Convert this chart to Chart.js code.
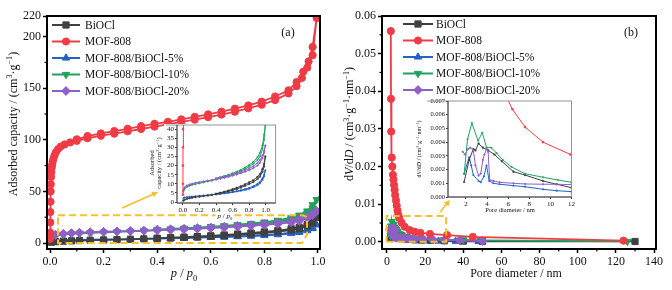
<!DOCTYPE html>
<html><head><meta charset="utf-8">
<script src="https://cdn.jsdelivr.net/npm/chart.js@4.4.1/dist/chart.umd.min.js"></script>
<style>
html,body{margin:0;padding:0;background:#fff}
body{position:relative;width:672px;height:290px;overflow:hidden}
canvas{position:absolute;display:block}
</style></head><body>
<canvas id="c1" width="336" height="290" style="left:0;top:0"></canvas>
<canvas id="c2" width="336" height="290" style="left:336px;top:0"></canvas>
<canvas id="i1" width="165" height="106" style="left:115px;top:118px"></canvas>
<canvas id="i2" width="168" height="122" style="left:408px;top:94px"></canvas>
<script>
// ================= DATA =================
const seriesNames = ['BiOCl','MOF-808','MOF-808/BiOCl-5%','MOF-808/BiOCl-10%','MOF-808/BiOCl-20%'];

// N2 isotherms: relative pressure p/p0 and adsorbed capacity (cm3/g)
const relP_ads = [0.005,0.02,0.05,0.08,0.11,0.15,0.2,0.25,0.3,0.35,0.4,0.45,0.5,0.55,0.6,0.65,0.7,0.75,0.8,0.85,0.9,0.93,0.96,0.98,0.995];
const relP_des = [0.98,0.96,0.93,0.9,0.85,0.8,0.75,0.7,0.65,0.6,0.55,0.5,0.45,0.4];
const bioclAds = [0.8,1.3,1.8,2.1,2.4,2.7,3.0,3.3,3.6,4.0,4.4,4.9,5.4,5.9,6.5,7.2,8.0,8.9,9.9,11.0,12.6,14.0,16.5,19.5,25.0];
const bioclDes = [21.0,18.0,15.2,13.8,12.0,10.8,9.7,8.7,7.8,7.0,6.3,5.7,5.1,4.6];
const mof5Ads  = [2.2,2.5,2.7,2.9,3.0,3.2,3.4,3.6,3.8,4.0,4.3,4.5,4.8,5.1,5.4,5.8,6.2,6.7,7.3,8.1,9.2,10.3,12.0,14.0,17.5];
const mof5Des  = [15.0,13.0,11.0,10.0,8.7,7.8,7.1,6.5,6.0,5.6,5.2,4.9,4.6,4.3];
const mof10Ads = [5.6,7.2,8.3,8.9,9.4,9.8,10.3,10.8,11.3,11.8,12.4,13.0,13.6,14.3,15.1,16.0,17.0,18.1,19.4,20.9,23.0,25.0,29.0,34.0,42.0];
const mof10Des = [37.0,31.0,27.0,24.5,22.0,20.3,18.9,17.7,16.7,15.8,15.0,14.3,13.6,13.0];
const mof20Ads = [6.5,8.0,9.0,9.6,10.0,10.5,10.9,11.3,11.7,12.1,12.5,12.9,13.4,13.9,14.5,15.1,15.8,16.6,17.5,18.6,20.0,21.5,24.0,27.0,31.0];
const mof20Des = [28.0,25.5,23.0,21.4,19.6,18.4,17.4,16.5,15.7,15.0,14.4,13.8,13.3,12.8];
const mofRelP_ads = [0.0003,0.0006,0.001,0.0015,0.002,0.0025,0.003,0.004,0.005,0.0065,0.008,0.01,0.013,0.017,0.022,0.03,0.04,0.055,0.075,0.1,0.14,0.19,0.24,0.29,0.34,0.39,0.44,0.49,0.54,0.59,0.64,0.69,0.74,0.79,0.84,0.89,0.92,0.94,0.96,0.98,0.995];
const mofAds = [4,10,20,30,40,50,57,64,69,73,76,79,82,85,88,91,93.5,95.5,97.5,99,101.5,104,106,108.3,110.5,112.8,115,117.3,119.5,122,124.5,127.3,130.5,134,138.5,145,152,160,170,182,218];
const mofRelP_des = [0.98,0.965,0.945,0.92,0.89,0.84,0.79,0.74,0.69,0.64,0.59,0.54,0.49,0.44,0.39,0.34,0.29,0.24,0.19,0.14,0.1];
const mofDes = [190,176,166,156,148,142,137,133.3,130.2,127.3,124.7,122.3,119.8,117.5,115.5,113.3,110.7,108.5,106.2,103.7,100.5];

// Pore size distribution: pore diameter (nm) and dV/dD
const psdD_BiOCl = [1.83,2.3,2.7,2.9,3.2,3.6,4.1,4.7,5.4,6.5,7.6,9.3,10.6,12.0,14.5,18,23,30,40,50,130];
const psdV_BiOCl = [0.0011,0.0027,0.0035,0.0034,0.0039,0.0036,0.0034,0.0031,0.0026,0.00185,0.0016,0.00117,0.00093,0.00068,0.0006,0.0005,0.0004,0.0003,0.0002,0.00015,0.0001];
const psdD_MOF = [2.0,2.1,2.2,2.5,2.8,3.1,3.4,3.7,4.0,4.3,4.7,5.1,5.5,5.9,6.4,7.6,9.3,11.9,14.5,17.5,22.5,31.5,45,124];
const psdV_MOF = [0.056,0.038,0.0293,0.0224,0.0200,0.0178,0.0165,0.0151,0.0138,0.0124,0.0110,0.0096,0.0083,0.0072,0.0064,0.0051,0.0040,0.0031,0.0027,0.0024,0.0021,0.0018,0.0013,0.0003];
const psdD_5 = [1.83,2.3,2.5,2.7,3.2,3.4,3.7,3.95,4.2,4.6,5.2,6.5,7.6,9.3,10.6,12.0,15,20,27,36,48];
const psdV_5 = [0.0017,0.0029,0.0023,0.0016,0.00117,0.00107,0.0015,0.0023,0.00117,0.001,0.00093,0.00083,0.00075,0.00056,0.00046,0.00039,0.0003,0.00025,0.0002,0.00015,0.0001];
const psdD_10 = [1.83,2.15,2.56,3.15,3.55,3.95,4.4,4.9,5.5,6.3,7.6,9.3,10.7,12.0,14.5,18,23,30,40,50,126];
const psdV_10 = [0.00168,0.0042,0.0054,0.0041,0.0047,0.0036,0.0036,0.0032,0.0027,0.0022,0.0017,0.00144,0.00124,0.00107,0.0009,0.0008,0.0007,0.0006,0.0005,0.0004,0.0001];
const psdD_20 = [1.7,1.9,2.2,2.4,2.7,2.9,3.2,3.4,3.6,3.75,3.95,4.1,4.25,4.6,5.2,6.5,7.6,9.3,10.6,12.0,15,19,24,30,38,50];
const psdV_20 = [0.0033,0.0031,0.0035,0.0036,0.0034,0.0023,0.00155,0.0017,0.0027,0.0031,0.0035,0.0033,0.00124,0.00117,0.00107,0.001,0.00095,0.00093,0.00093,0.0009,0.0008,0.0007,0.0006,0.0005,0.0004,0.0002];

// tick labels
const isoXTicks = [0,0.2,0.4,0.6,0.8,1.0];
const isoYTicks = [0,50,100,150,200,220];
const psdXTicks = [0,20,40,60,80,100,120,140];
const psdYTicks = [0,0.01,0.02,0.03,0.04,0.05,0.06];
const inIsoXTicks = [0,0.2,0.4,0.6,0.8,1.0];
const inIsoYTicks = [0,5,10,15,20,25,30,35,40];
const inPsdXTicks = [2,4,6,8,10,12];
const inPsdYTicks = [0,0.001,0.002,0.003,0.004,0.005,0.006,0.007];

// ================= STYLE =================
const FAM = "'Liberation Serif','Times New Roman',serif";
const COL = ['#404040','#ef3b45','#2463c3','#1fa25c','#8e5fc6'];
const PSTYLE = ['rect','circle','triangle','triangle','rectRot'];
const PROT = [0,0,0,180,0];
const PRAD = [4.4,3.6,4.2,4.2,4.4];
const DRAW_ORDER = [1,4,3,0,2];
const YEL = '#f6c02c';

function pts(xs, ys){ return xs.map((x,i)=>({x:x, y:ys[i]})); }
const isoSeries = [
  pts(relP_ads,bioclAds).concat(pts(relP_des,bioclDes)),
  pts(mofRelP_ads,mofAds).concat(pts(mofRelP_des,mofDes)),
  pts(relP_ads,mof5Ads).concat(pts(relP_des,mof5Des)),
  pts(relP_ads,mof10Ads).concat(pts(relP_des,mof10Des)),
  pts(relP_ads,mof20Ads).concat(pts(relP_des,mof20Des))
];
const psdSeries = [pts(psdD_BiOCl,psdV_BiOCl), pts(psdD_MOF,psdV_MOF), pts(psdD_5,psdV_5), pts(psdD_10,psdV_10), pts(psdD_20,psdV_20)];

function makeDatasets(series, inset){
  return DRAW_ORDER.map(k => ({
    label: seriesNames[k], data: series[k], showLine:true, tension:0,
    borderColor: COL[k], backgroundColor: COL[k],
    borderWidth: inset ? 1 : 1.8,
    pointStyle: PSTYLE[k], pointRotation: PROT[k],
    pointRadius: inset ? 1.1 : PRAD[k], pointBorderWidth: inset ? 0.4 : 1,
    pointBackgroundColor: COL[k], pointBorderColor: COL[k]
  }));
}

function rich(ctx, parts, x, y, size, rot, whiteBg){
  ctx.save();
  ctx.translate(x,y);
  if (rot) ctx.rotate(rot);
  ctx.textBaseline='alphabetic'; ctx.textAlign='left';
  const font = p => ((p[1]==='i')?'italic ':'') + ((p[1]==='sup'||p[1]==='sub')? size*0.68 : size) + 'px ' + FAM;
  let w=0;
  parts.forEach(p=>{ ctx.font=font(p); w+=ctx.measureText(p[0]).width; });
  if (whiteBg){ ctx.fillStyle='#fff'; ctx.fillRect(-w/2-2, -size*0.6, w+4, size*1.25); }
  ctx.fillStyle='#111';
  let cx=-w/2; const base=size*0.35;
  parts.forEach(p=>{
    ctx.font=font(p);
    const dy = p[1]==='sup' ? -size*0.38 : (p[1]==='sub' ? size*0.25 : 0);
    ctx.fillText(p[0], cx, base+dy);
    cx += ctx.measureText(p[0]).width;
  });
  ctx.restore();
}

const charts = {};

function arrow(ctx, x0,y0,x1,y1,color,w){
  const ang=Math.atan2(y1-y0,x1-x0), L=6, H=3;
  ctx.save();
  ctx.strokeStyle=color; ctx.fillStyle=color; ctx.lineWidth=w; ctx.setLineDash([]);
  ctx.beginPath(); ctx.moveTo(x0,y0); ctx.lineTo(x1-Math.cos(ang)*L*0.8, y1-Math.sin(ang)*L*0.8); ctx.stroke();
  ctx.beginPath();
  ctx.moveTo(x1,y1);
  ctx.lineTo(x1-Math.cos(ang)*L+Math.sin(ang)*H, y1-Math.sin(ang)*L-Math.cos(ang)*H);
  ctx.lineTo(x1-Math.cos(ang)*L-Math.sin(ang)*H, y1-Math.sin(ang)*L+Math.cos(ang)*H);
  ctx.closePath(); ctx.fill();
  ctx.restore();
}

const deco = {
  id:'deco',
  beforeDraw(chart, args, o){
    if (o.bg){ const c=chart.ctx; c.save(); c.fillStyle='#fff'; c.fillRect(o.bg[0],o.bg[1],o.bg[2],o.bg[3]); c.restore(); }
  },
  afterDatasetsDraw(chart, args, o){
    const ctx=chart.ctx, a=chart.chartArea, xs=chart.scales.x, ys=chart.scales.y;
    ctx.save();
    (o.polys||[]).forEach(p=>{
      ctx.beginPath(); ctx.setLineDash(p.dash); ctx.lineWidth=p.w; ctx.strokeStyle=p.color;
      p.pts.forEach((q,i)=>{ const px=xs.getPixelForValue(q[0]), py=ys.getPixelForValue(q[1]); if(i) ctx.lineTo(px,py); else ctx.moveTo(px,py); });
      ctx.stroke();
    });
    ctx.setLineDash([]);
    if (o.frame){
      ctx.lineWidth=o.frame.w; ctx.strokeStyle=o.frame.color;
      ctx.strokeRect(a.left,a.top,a.right-a.left,a.bottom-a.top);
      if (o.frame.extendTop!=null){ ctx.beginPath(); ctx.moveTo(o.frame.extendTop,a.top); ctx.lineTo(a.left,a.top); ctx.stroke(); }
      if (o.frame.axis){ ctx.strokeStyle=o.frame.axis; ctx.beginPath(); ctx.moveTo(a.left,a.top); ctx.lineTo(a.left,a.bottom); ctx.lineTo(a.right,a.bottom); ctx.stroke(); }
    }
    if (o.minor){
      ctx.strokeStyle='#000'; ctx.lineWidth=1.2;
      (o.minor.x||[]).forEach(v=>{ const px=xs.getPixelForValue(v); ctx.beginPath(); ctx.moveTo(px,a.bottom); ctx.lineTo(px,a.bottom+o.minor.len); ctx.stroke(); });
      (o.minor.y||[]).forEach(v=>{ const py=ys.getPixelForValue(v); ctx.beginPath(); ctx.moveTo(a.left,py); ctx.lineTo(a.left-o.minor.len,py); ctx.stroke(); });
    }
    ctx.restore();
  },
  afterDraw(chart, args, o){
    const ctx=chart.ctx;
    if (o.legend){
      const L=o.legend;
      L.items.forEach((k,i)=>{
        const y=L.y0+i*L.dy;
        ctx.save();
        ctx.strokeStyle=COL[k]; ctx.lineWidth=2; ctx.beginPath(); ctx.moveTo(L.x0,y); ctx.lineTo(L.x1,y); ctx.stroke();
        ctx.fillStyle=COL[k]; ctx.strokeStyle=COL[k]; ctx.lineWidth=1;
        if (Chart.helpers && Chart.helpers.drawPoint){
          Chart.helpers.drawPoint(ctx,{pointStyle:PSTYLE[k],rotation:PROT[k],radius:PRAD[k],borderWidth:1},(L.x0+L.x1)/2,y);
        } else { ctx.beginPath(); ctx.arc((L.x0+L.x1)/2,y,3.5,0,Math.PI*2); ctx.fill(); }
        ctx.fillStyle='#111'; ctx.font=L.size+'px '+FAM; ctx.textBaseline='middle'; ctx.textAlign='left';
        ctx.fillText(seriesNames[k], L.tx, y+0.5);
        ctx.restore();
      });
    }
    (o.texts||[]).forEach(t=>rich(ctx,t.parts,t.x,t.y,t.size,t.rot||0,t.bg));
    (o.arrows||[]).forEach(ar=>{
      const src=charts[ar.src]; if(!src) return;
      const x0=src.scales.x.getPixelForValue(ar.from[0])+ar.dx, y0=src.scales.y.getPixelForValue(ar.from[1])+ar.dy;
      const x1=src.scales.x.getPixelForValue(ar.to[0])+ar.dx, y1=src.scales.y.getPixelForValue(ar.to[1])+ar.dy;
      arrow(ctx,x0,y0,x1,y1,YEL,1.6);
    });
  }
};

function axis(o){
  return {
    type:'linear', min:o.min, max:o.max,
    afterBuildTicks: s=>{ s.ticks=o.ticks.map(v=>({value:v})); },
    afterFit: s=>{ if(o.h!=null) s.height=o.h; if(o.w!=null) s.width=o.w; },
    ticks:{ autoSkip:false, maxRotation:0, minRotation:0, padding:o.pad, color:'#111', font:{family:FAM,size:o.fs}, callback:o.fmt },
    grid:{ drawOnChartArea:false, drawTicks:true, tickLength:o.tl, tickColor:o.tc||'#000', tickWidth:o.tw },
    border:{ display:false }
  };
}
function opts(xa, ya, pad, decoOpts){
  return { responsive:false, animation:false, events:[], devicePixelRatio:1,
    layout:{padding:pad},
    plugins:{ legend:{display:false}, tooltip:{enabled:false}, deco:decoOpts },
    scales:{ x:xa, y:ya } };
}

const yTitleA = [['Adsorbed capacity / (cm'],['3','sup'],['·g'],['−1','sup'],[')']];
const yTitleB = [['d'],['V','i'],['/d'],['D','i'],[' / (cm'],['3','sup'],['·g'],['−1','sup'],['·nm'],['−1','sup'],[')']];
const xTitleA = [['p','i'],[' / '],['p','i'],['0','sub']];
const xTitleB = [['Pore diameter / nm']];

// ---------- panel (a) ----------
charts.c1 = new Chart(document.getElementById('c1'), {
  type:'scatter',
  data:{ datasets: makeDatasets(isoSeries,false) },
  options: opts(
    axis({min:-0.0112,max:1.0075,ticks:isoXTicks,h:41,fs:12,pad:2,tl:4,tw:1.5,fmt:v=>v.toFixed(1)}),
    axis({min:-5.8,max:220,ticks:isoYTicks,w:47,fs:12,pad:2,tl:4,tw:1.5,fmt:v=>String(v)}),
    {left:0,top:16,right:16,bottom:0},
    { frame:{w:2,color:'#000'},
      minor:{x:[0.1,0.3,0.5,0.7,0.9], y:[25,75,125,175], len:2.5},
      polys:[{pts:[[0.03,27],[0.944,27],[0.959,25],[0.959,8],[0.94,0],[0.03,0],[0.03,27]], color:YEL, dash:[7,4], w:2}],
      legend:{items:[0,1,2,3,4], x0:52, x1:80, tx:85, y0:25, dy:16.5, size:11.5},
      texts:[ {parts:[['(a)']],x:288,y:32,size:12},
              {parts:yTitleA,x:12.5,y:124,size:12,rot:-Math.PI/2},
              {parts:xTitleA,x:184,y:273,size:12.5} ] }
  ),
  plugins:[deco]
});

// ---------- panel (b) ----------
charts.c2 = new Chart(document.getElementById('c2'), {
  type:'scatter',
  data:{ datasets: makeDatasets(psdSeries,false) },
  options: opts(
    axis({min:-2.62,max:141,ticks:psdXTicks,h:41,fs:12,pad:2,tl:4,tw:1.5,fmt:v=>String(v)}),
    axis({min:-0.0019,max:0.06,ticks:psdYTicks,w:46,fs:12,pad:2,tl:4,tw:1.5,fmt:v=>v.toFixed(2)}),
    {left:0,top:16,right:16,bottom:0},
    { frame:{w:2,color:'#000'},
      minor:{x:[10,30,50,70,90,110,130], y:[0.005,0.015,0.025,0.035,0.045,0.055], len:2.5},
      polys:[{pts:[[-0.2,0],[31,0],[31,0.0069],[-0.2,0.0069],[-0.2,0]], color:YEL, dash:[7,4], w:2}],
      legend:{items:[0,1,2,3,4], x0:67, x1:97, tx:100, y0:24, dy:16.5, size:11.5},
      texts:[ {parts:[['(b)']],x:295,y:32,size:12},
              {parts:yTitleB,x:13,y:124,size:12,rot:-Math.PI/2},
              {parts:xTitleB,x:180,y:273,size:12} ] }
  ),
  plugins:[deco]
});

// ---------- inset (a) ----------
charts.i1 = new Chart(document.getElementById('i1'), {
  type:'scatter',
  data:{ datasets: makeDatasets(isoSeries,true) },
  options: opts(
    axis({min:-0.071,max:1.119,ticks:inIsoXTicks,h:21,fs:7,pad:1,tl:2,tw:0.8,fmt:v=>v.toFixed(1)}),
    axis({min:-0.5,max:42.2,ticks:inIsoYTicks,w:62,fs:7,pad:1,tl:2,tw:0.8,fmt:v=>String(v)}),
    {left:0,top:7,right:3,bottom:0},
    { bg:[49,6,114,87],
      frame:{w:0.9,color:'#8a8a8a',extendTop:51,axis:'#333'},
      texts:[ {parts:[['Adsorbed']],x:37,y:45,size:6.5,rot:-Math.PI/2},
              {parts:[['capacity / (cm'],['3','sup'],['·g'],['−1','sup'],[')']],x:44,y:45,size:6.5,rot:-Math.PI/2},
              {parts:xTitleA,x:110,y:98,size:7,bg:true} ],
      arrows:[{src:'c1',from:[0.269,33.9],to:[0.403,49.4],dx:-115,dy:-118}] }
  ),
  plugins:[deco]
});

// ---------- inset (b) ----------
charts.i2 = new Chart(document.getElementById('i2'), {
  type:'scatter',
  data:{ datasets: makeDatasets(psdSeries,true) },
  options: opts(
    axis({min:0.3,max:12,ticks:inPsdXTicks,h:19,fs:7,pad:1,tl:2,tw:0.8,fmt:v=>String(v)}),
    axis({min:0,max:0.007,ticks:inPsdYTicks,w:40,fs:6.5,pad:1,tl:2,tw:0.8,fmt:v=>v.toFixed(3)}),
    {left:0,top:7,right:4,bottom:0},
    { bg:[19,5,147,115],
      frame:{w:0.9,color:'#8a8a8a',extendTop:19,axis:'#333'},
      texts:[ {parts:yTitleB,x:11,y:55,size:6,rot:-Math.PI/2},
              {parts:xTitleB,x:102,y:116,size:6.5} ],
      arrows:[{src:'c2',from:[27.8,0.00796],to:[33,0.01115],dx:-72,dy:-94}] }
  ),
  plugins:[deco]
});
</script></body></html>
